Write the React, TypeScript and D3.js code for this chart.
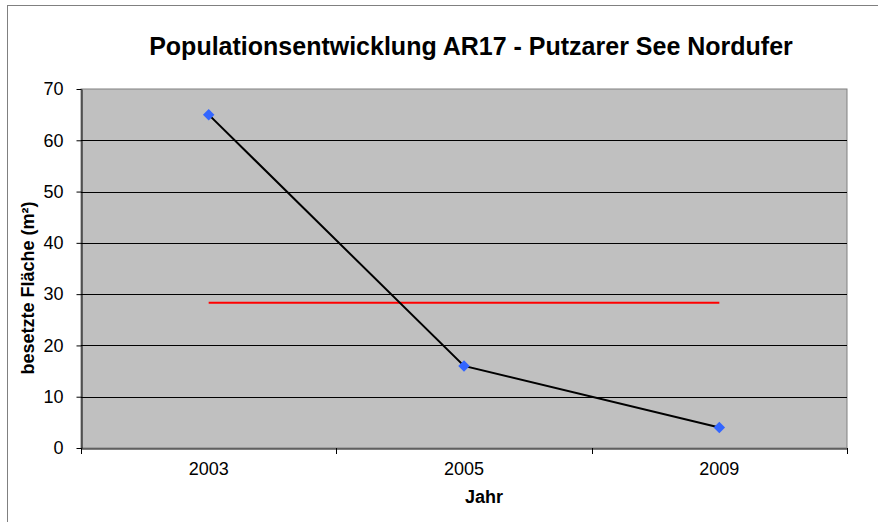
import React, { useRef, useEffect } from 'react'
import * as d3 from 'd3'

const years = ['2003', '2005', '2009']
const area = [65, 16, 4]
const meanLevel = [28.3, 28.3, 28.3]
const yTicks = [0, 10, 20, 30, 40, 50, 60, 70]

const W = 878
const H = 522
const plot = { left: 81, right: 847, top: 89, bottom: 448 }
const FONT = 'Liberation Sans, Arial, sans-serif'

const App = () => {
  const svgRef = useRef<SVGSVGElement>(null)

  useEffect(() => {
    const svg = d3.select(svgRef.current)
    svg.selectAll('*').remove()

    const x = d3.scaleBand().domain(years).range([plot.left, plot.right])
    const y = d3.scaleLinear().domain([0, 70]).range([plot.bottom, plot.top])
    const cx = (d: string) => (x(d) as number) + x.bandwidth() / 2

    // outer chart frame
    svg
      .append('rect')
      .attr('x', 7.5)
      .attr('y', 5.5)
      .attr('width', W + 20)
      .attr('height', H + 20)
      .attr('fill', 'white')
      .attr('stroke', '#808080')

    // plot area
    svg
      .append('rect')
      .attr('x', plot.left)
      .attr('y', plot.top)
      .attr('width', plot.right - plot.left)
      .attr('height', plot.bottom - plot.top)
      .attr('fill', '#c0c0c0')
      .attr('stroke', '#808080')

    // gridlines
    svg
      .append('g')
      .selectAll('line')
      .data(yTicks.filter((t) => t > 0 && t < 70))
      .enter()
      .append('line')
      .attr('x1', plot.left)
      .attr('x2', plot.right)
      .attr('y1', (d) => Math.round(y(d)) + 0.5)
      .attr('y2', (d) => Math.round(y(d)) + 0.5)
      .attr('stroke', '#000')

    // y axis
    const yAxis = svg
      .append('g')
      .attr('transform', `translate(${plot.left + 0.5},0)`)
      .call(d3.axisLeft(y).tickValues(yTicks).tickSize(5).tickPadding(13).tickSizeOuter(0))
    yAxis.select('.domain').attr('stroke', '#000')
    yAxis.selectAll('.tick line').attr('stroke', '#000')
    yAxis
      .selectAll('.tick text')
      .attr('font-family', FONT)
      .attr('font-size', 18)
      .attr('fill', '#000')

    // x axis
    const xAxis = svg
      .append('g')
      .attr('transform', `translate(0,${plot.bottom + 0.5})`)
      .call(d3.axisBottom(x).tickSize(0).tickPadding(14))
    xAxis.select('.domain').attr('stroke', '#000')
    xAxis
      .selectAll('.tick text')
      .attr('font-family', FONT)
      .attr('font-size', 18)
      .attr('fill', '#000')

    // category boundary ticks
    const bounds = years.map((d) => x(d) as number).concat([plot.right])
    svg
      .append('g')
      .selectAll('line')
      .data(bounds)
      .enter()
      .append('line')
      .attr('x1', (d) => Math.round(d) + 0.5)
      .attr('x2', (d) => Math.round(d) + 0.5)
      .attr('y1', plot.bottom)
      .attr('y2', plot.bottom + 6)
      .attr('stroke', '#000')

    // red reference line
    const line = d3
      .line<number>()
      .x((_, i) => cx(years[i]))
      .y((d) => y(d))

    svg
      .append('path')
      .datum(meanLevel)
      .attr('d', line)
      .attr('fill', 'none')
      .attr('stroke', '#ff0000')
      .attr('stroke-width', 2)

    // data series
    svg
      .append('path')
      .datum(area)
      .attr('d', line)
      .attr('fill', 'none')
      .attr('stroke', '#000')
      .attr('stroke-width', 2)

    svg
      .append('g')
      .selectAll('path')
      .data(area)
      .enter()
      .append('path')
      .attr('d', d3.symbol(d3.symbolDiamond2, 84))
      .attr('transform', (d, i) => `translate(${cx(years[i])},${y(d)})`)
      .attr('fill', '#3366ff')

    // title
    svg
      .append('text')
      .attr('x', 471)
      .attr('y', 55)
      .attr('text-anchor', 'middle')
      .attr('font-family', FONT)
      .attr('font-size', 25)
      .attr('font-weight', 'bold')
      .text('Populationsentwicklung AR17 - Putzarer See Nordufer')

    // axis titles
    svg
      .append('text')
      .attr('x', 484)
      .attr('y', 503)
      .attr('text-anchor', 'middle')
      .attr('font-family', FONT)
      .attr('font-size', 18)
      .attr('font-weight', 'bold')
      .text('Jahr')

    svg
      .append('text')
      .attr('transform', `translate(34,288) rotate(-90)`)
      .attr('text-anchor', 'middle')
      .attr('font-family', FONT)
      .attr('font-size', 18)
      .attr('font-weight', 'bold')
      .text('besetzte Fläche (m²)')
  }, [])

  return (
    <svg
      ref={svgRef}
      width={W}
      height={H}
      style={{ position: 'absolute', left: 0, top: 0, background: 'white' }}
    />
  )
}

export default App
